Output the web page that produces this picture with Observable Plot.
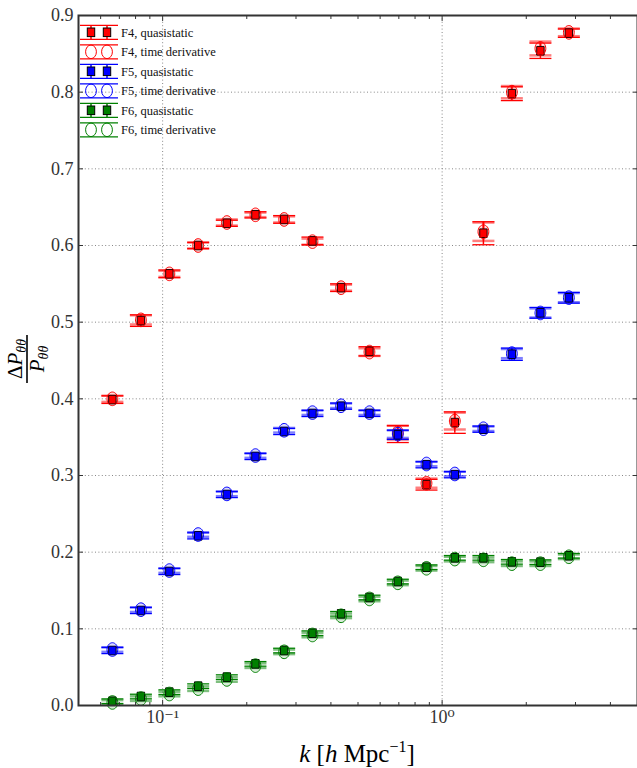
<!DOCTYPE html>
<html><head><meta charset="utf-8">
<script src="https://cdn.jsdelivr.net/npm/d3@7"></script>
<script src="https://cdn.jsdelivr.net/npm/@observablehq/plot@0.6"></script>
<style>
body{margin:0;background:#fff;}
#wrap{position:relative;width:637px;height:768px;overflow:hidden;}
#wrap svg{position:absolute;left:0;top:0;}
</style></head><body><div id="wrap"></div>
<script>
// ---- data ----
const k = [0.0661,0.0836,0.1057,0.1340,0.1697,0.2148,0.2721,0.3436,0.435,0.5495,0.694,0.879,1.110,1.405,1.776,2.247,2.840];

const f4Quasi    = [0.399,0.502,0.563,0.600,0.629,0.640,0.634,0.606,0.545,0.462,0.354,0.288,0.369,0.616,0.798,0.854,0.877];
const f4QuasiErr = [0.005,0.0075,0.005,0.004,0.004,0.004,0.005,0.005,0.005,0.006,0.011,0.007,0.014,0.015,0.009,0.010,0.0055];
const f4Time     = [0.400,0.503,0.563,0.600,0.630,0.640,0.634,0.605,0.545,0.461,0.356,0.290,0.371,0.618,0.800,0.857,0.878];
const f4TimeErr  = [0.004,0.006,0.004,0.004,0.004,0.003,0.004,0.004,0.004,0.005,0.009,0.006,0.011,0.012,0.008,0.009,0.005];

const f5Quasi    = [0.0717,0.1239,0.1748,0.2213,0.2752,0.3248,0.3574,0.3809,0.3904,0.381,0.353,0.314,0.301,0.3604,0.4582,0.5122,0.5318];
const f5QuasiErr = [0.004,0.004,0.004,0.004,0.004,0.004,0.004,0.004,0.004,0.004,0.006,0.004,0.004,0.004,0.008,0.007,0.007];
const f5Time     = [0.073,0.125,0.176,0.223,0.276,0.326,0.359,0.382,0.391,0.382,0.354,0.315,0.302,0.361,0.459,0.512,0.532];
const f5TimeErr  = [0.003,0.003,0.003,0.003,0.003,0.003,0.003,0.003,0.003,0.003,0.005,0.003,0.003,0.003,0.006,0.006,0.006];

const f6Quasi    = [0.0056,0.0117,0.0174,0.0252,0.037,0.0543,0.0717,0.0943,0.1196,0.1409,0.1617,0.1804,0.1926,0.1926,0.1874,0.187,0.1953];
const f6QuasiErr = [0.003,0.003,0.003,0.003,0.003,0.003,0.003,0.003,0.003,0.003,0.003,0.003,0.003,0.003,0.003,0.003,0.003];
const f6Time     = [0.004,0.009,0.015,0.022,0.034,0.052,0.070,0.092,0.117,0.139,0.160,0.179,0.191,0.190,0.185,0.185,0.194];
const f6TimeErr  = [0.003,0.003,0.003,0.003,0.003,0.003,0.003,0.003,0.003,0.003,0.003,0.003,0.003,0.003,0.003,0.003,0.003];

const seriesNames = ["F4, quasistatic","F4, time derivative","F5, quasistatic","F5, time derivative","F6, quasistatic","F6, time derivative"];
const seriesColors = ["#ff0000","#0000ff","#008000"];

const xMajor = [0.1, 1];
const xMajorLabels = ["10\u207B\u00B9", "10\u2070"];
const xMinor = [0.06,0.07,0.08,0.09,0.2,0.3,0.4,0.5,0.6,0.7,0.8,0.9,2,3,4];
const yTicks = [0,0.1,0.2,0.3,0.4,0.5,0.6,0.7,0.8,0.9];

// ---- symbols ----
const capSym = {draw(c){c.moveTo(-11,0);c.lineTo(11,0);}};
function ellipse(rx, ry){
  const kx = 0.5523*rx, ky = 0.5523*ry;
  return {draw(c){
    c.moveTo(rx,0);
    c.bezierCurveTo(rx,ky,kx,ry,0,ry);
    c.bezierCurveTo(-kx,ry,-rx,ky,-rx,0);
    c.bezierCurveTo(-rx,-ky,-kx,-ry,0,-ry);
    c.bezierCurveTo(kx,-ry,rx,-ky,rx,0);
    c.closePath();
  }};
}
const circSym = ellipse(5.4, 6.8);
const sqSym = {draw(c){c.rect(-3.7,-4.3,7.4,8.6);}};

function rows(vals, errs){ return k.map((kk,i)=>({k:kk, v:vals[i], e:errs[i]})); }

const sets = [
  {q: rows(f4Quasi,f4QuasiErr), t: rows(f4Time,f4TimeErr), c: seriesColors[0]},
  {q: rows(f5Quasi,f5QuasiErr), t: rows(f5Time,f5TimeErr), c: seriesColors[1]},
  {q: rows(f6Quasi,f6QuasiErr), t: rows(f6Time,f6TimeErr), c: seriesColors[2]}
];

const font = "'Liberation Serif', 'DejaVu Serif', serif";
const marks = [
  Plot.gridX(xMajor, {stroke:"#888", strokeOpacity:1, strokeDasharray:"1,2.4"}),
  Plot.gridY(yTicks.slice(1), {stroke:"#888", strokeOpacity:1, strokeDasharray:"1,2.4"})
];
for (const s of sets) {
  // time derivative error bars (light, thick)
  marks.push(Plot.ruleX(s.t, {x:"k", y1:d=>d.v-d.e, y2:d=>d.v+d.e, stroke:s.c, strokeWidth:2.5, strokeOpacity:0.5}));
  marks.push(Plot.dot(s.t, {x:"k", y:d=>d.v+d.e, symbol:capSym, fill:"none", stroke:s.c, strokeWidth:2.5, strokeOpacity:0.5}));
  marks.push(Plot.dot(s.t, {x:"k", y:d=>d.v-d.e, symbol:capSym, fill:"none", stroke:s.c, strokeWidth:2.5, strokeOpacity:0.5}));
  // quasistatic error bars
  marks.push(Plot.ruleX(s.q, {x:"k", y1:d=>d.v-d.e, y2:d=>d.v+d.e, stroke:s.c, strokeWidth:1.5}));
  marks.push(Plot.dot(s.q, {x:"k", y:d=>d.v+d.e, symbol:capSym, fill:"none", stroke:s.c, strokeWidth:1.3}));
  marks.push(Plot.dot(s.q, {x:"k", y:d=>d.v-d.e, symbol:capSym, fill:"none", stroke:s.c, strokeWidth:1.3}));
  // markers
  marks.push(Plot.dot(s.q, {x:"k", y:"v", symbol:sqSym, fill:s.c, stroke:"#000", strokeWidth:1}));
  marks.push(Plot.dot(s.t, {x:"k", y:"v", symbol:circSym, fill:s.c, fillOpacity:0.15, stroke:s.c, strokeWidth:1}));
}
// axes: inward ticks
marks.push(
  Plot.axisX(xMajor, {anchor:"bottom", tickSize:-5, tickFormat:()=>"", label:null, stroke:"#333"}),
  Plot.axisX(xMinor, {anchor:"bottom", tickSize:-3, tickFormat:()=>"", label:null, stroke:"#333"}),
  Plot.axisX(xMajor, {anchor:"top", tickSize:-5, tickFormat:()=>"", label:null, stroke:"#333"}),
  Plot.axisX(xMinor, {anchor:"top", tickSize:-3, tickFormat:()=>"", label:null, stroke:"#333"}),
  Plot.axisY(yTicks, {anchor:"left", tickSize:-5, tickFormat:()=>"", label:null, stroke:"#333"}),
  Plot.axisY(yTicks, {anchor:"right", tickSize:-5, tickFormat:()=>"", label:null, stroke:"#333"}),
  Plot.text(yTicks, {y:d=>d, frameAnchor:"left", dx:-5, textAnchor:"end", text:d=>d.toFixed(1), fontSize:18, fontFamily:font, fill:"#333"}),
  Plot.text(xMajor, {x:d=>d, frameAnchor:"bottom", dy:17, text:(d,i)=>xMajorLabels[i], fontSize:18, fontFamily:font, fill:"#333"}),
  Plot.frame({stroke:"#333", strokeWidth:2})
);

const chart = Plot.plot({
  width:637, height:768,
  marginLeft:78, marginRight:0, marginTop:15, marginBottom:63,
  x:{type:"log", domain:[0.05,5]},
  y:{domain:[0,0.9]},
  style:{fontFamily:font, background:"#fff"},
  marks
});
document.getElementById("wrap").appendChild(chart);

// ---- overlay: legend and axis titles ----
const ov = d3.select("#wrap").append("svg").attr("width",637).attr("height",768)
  .attr("font-family", font);

// legend
const lg = ov.append("g");
seriesNames.forEach((name, i) => {
  const c = seriesColors[Math.floor(i/2)];
  const quasi = i % 2 === 0;
  const cy = 32.3 + i*19.5;
  const g = lg.append("g").attr("transform", `translate(0,${cy})`);
  [-7, 7].forEach(dy => g.append("line").attr("x1",80).attr("x2",118).attr("y1",dy).attr("y2",dy)
    .attr("stroke",c).attr("stroke-width",1.2));
  [91,107].forEach(x => {
    if (quasi) {
      g.append("line").attr("x1",x).attr("x2",x).attr("y1",-7).attr("y2",7).attr("stroke",c).attr("stroke-width",1.5);
      g.append("rect").attr("x",x-3.7).attr("y",-4.3).attr("width",7.4).attr("height",8.6)
        .attr("fill",c).attr("stroke","#000").attr("stroke-width",1);
    } else {
      g.append("ellipse").attr("cx",x).attr("cy",0).attr("rx",5.4).attr("ry",6.8)
        .attr("fill","none").attr("stroke",c).attr("stroke-width",1);
    }
  });
  g.append("text").attr("x",121).attr("y",4.3).attr("font-size",12.5).attr("fill","#111").text(name);
});

// y label (fraction)
const yl = ov.append("g").attr("transform","translate(27,359) rotate(-90)").attr("fill","#000");
const num = yl.append("text").attr("x",0).attr("y",-5).attr("text-anchor","middle").attr("font-size",21);
num.append("tspan").text("\u0394");
num.append("tspan").attr("font-style","italic").text("P");
num.append("tspan").attr("font-style","italic").attr("font-size",14).attr("dy",4).text("\u03B8\u03B8");
yl.append("line").attr("x1",-24).attr("x2",24).attr("y1",0).attr("y2",0).attr("stroke","#000").attr("stroke-width",1.6);
const den = yl.append("text").attr("x",0).attr("y",17).attr("text-anchor","middle").attr("font-size",21);
den.append("tspan").attr("font-style","italic").text("P");
den.append("tspan").attr("font-style","italic").attr("font-size",14).attr("dy",4).text("\u03B8\u03B8");

// x label
const xl = ov.append("text").attr("x",357).attr("y",762).attr("text-anchor","middle").attr("font-size",25).attr("fill","#000");
xl.append("tspan").attr("font-style","italic").text("k");
xl.append("tspan").text(" [");
xl.append("tspan").attr("font-style","italic").text("h");
xl.append("tspan").text(" Mpc");
xl.append("tspan").attr("font-size",16).attr("dy",-10).text("\u22121");
xl.append("tspan").attr("dy",10).text("]");
</script>
</body></html>
